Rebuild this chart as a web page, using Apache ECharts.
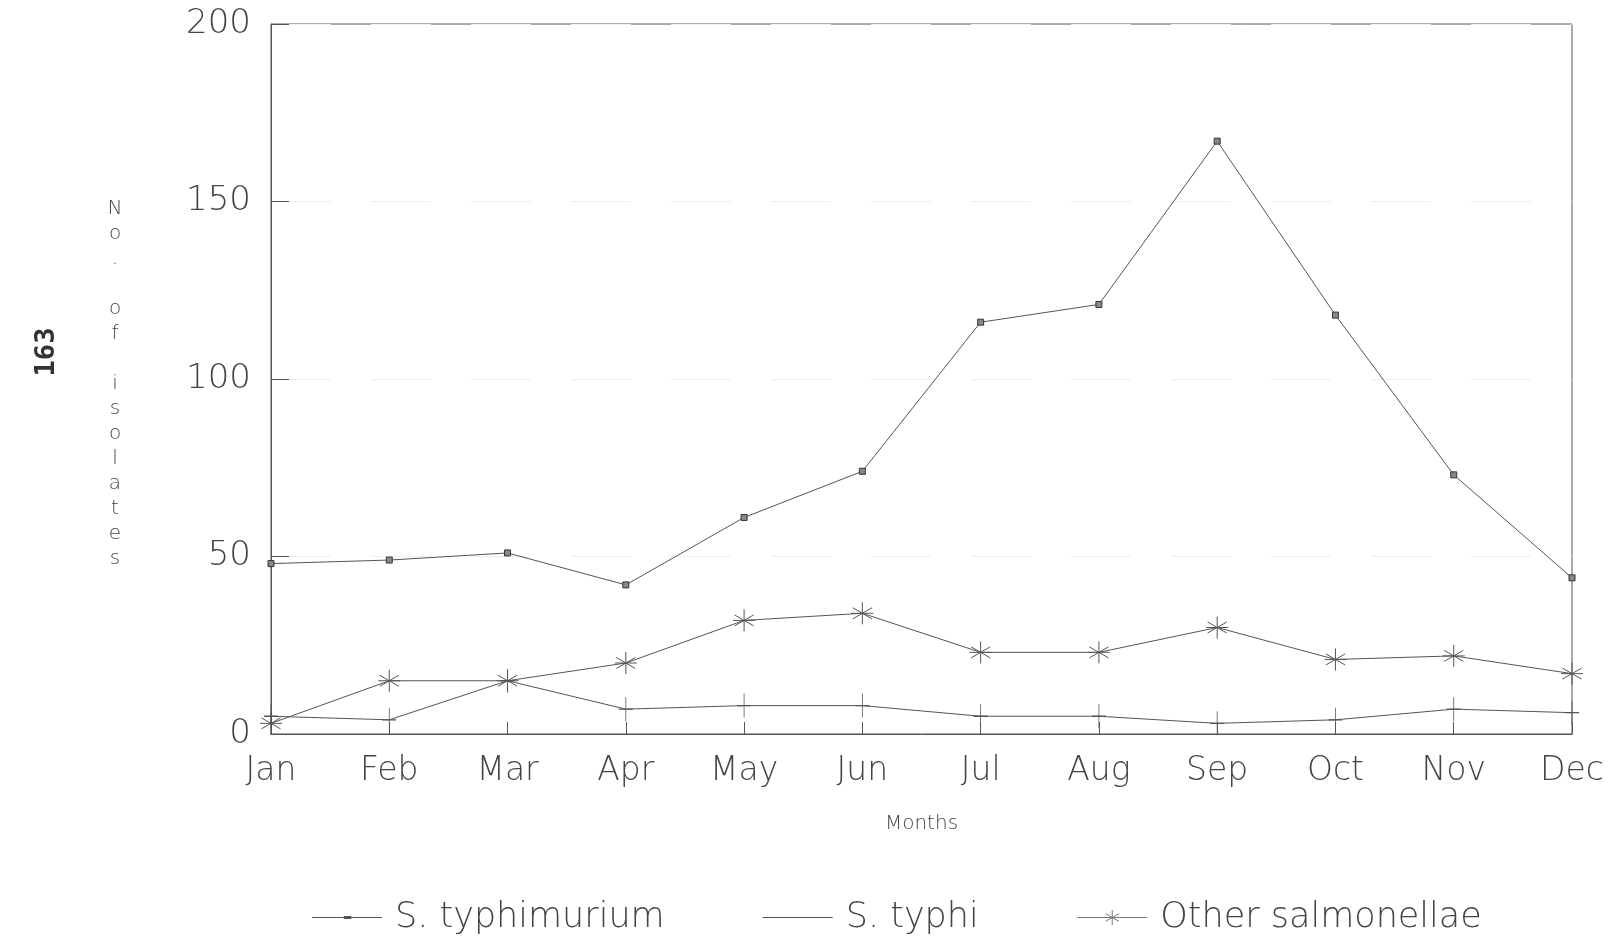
<!DOCTYPE html>
<html>
<head>
<meta charset="utf-8">
<title>Salmonella isolates by month</title>
<script src="https://cdn.jsdelivr.net/npm/echarts@6/dist/echarts.min.js"></script>
<style>
    html, body { margin: 0; padding: 0; background: #fff; }
    #chartBox { width: 1609px; height: 945px; }
</style>
</head>
<body>
<div id="chartBox"></div>
<script>
// data
var months = ['Jan', 'Feb', 'Mar', 'Apr', 'May', 'Jun', 'Jul', 'Aug', 'Sep', 'Oct', 'Nov', 'Dec'];
var typhimurium = [48, 49, 51, 42, 61, 74, 116, 121, 167, 118, 73, 44];
var typhi = [5, 4, 15, 7, 8, 8, 5, 5, 3, 4, 7, 6];
var otherSalmonellae = [3, 15, 15, 20, 32, 34, 23, 23, 30, 21, 22, 17];
var yTicks = [0, 50, 100, 150, 200];

var ink = '#555';
var textInk = '#444';
var thinFont = "'DejaVu Sans', 'Open Sans', sans-serif";

// marker shapes drawn as stroked paths
var plusPath = 'path://M7,0 L7,24 M0,12 L14,12';
var starPath = 'path://M10,0 L10,20 M1.3,5 L18.7,15 M1.3,15 L18.7,5 M0,10 L20,10';

// legend icons (filled thin bars so the box never has zero height)
var iconTyphimurium = 'path://M0,9.5 L66,9.5 L66,10.5 L0,10.5 Z M30,8.5 L37,8.5 L37,11.5 L30,11.5 Z';
var iconTyphi = 'path://M0,9.5 L70,9.5 L70,10.5 L0,10.5 Z';
var iconOther = 'path://M0,10 L74,10 M37,2 L37,18 M30,6 L44,14 M30,14 L44,6';

var myChart;
var option;

function initChart() {
    var chartDom = document.getElementById('chartBox');
    myChart = echarts.init(chartDom, null, { renderer: 'canvas' });

    option = {
        backgroundColor: '#ffffff',
        animation: false,
        grid: {
            left: 271,
            right: 37,
            top: 24,
            bottom: 211,
            show: true,
            borderColor: ink,
            borderWidth: 1,
            backgroundColor: 'transparent'
        },
        xAxis: {
            type: 'category',
            data: months,
            boundaryGap: false,
            name: 'Months',
            nameLocation: 'middle',
            nameGap: 80,
            nameTextStyle: { fontFamily: thinFont, fontWeight: 200, fontSize: 20, color: textInk },
            axisLine: { lineStyle: { color: ink, width: 1 } },
            axisTick: { inside: true, length: 12, lineStyle: { color: ink } },
            axisLabel: {
                margin: 21,
                fontFamily: thinFont,
                fontWeight: 200,
                fontSize: 33,
                color: textInk
            },
            splitLine: { show: false }
        },
        yAxis: {
            type: 'value',
            min: yTicks[0],
            max: yTicks[yTicks.length - 1],
            interval: yTicks[1] - yTicks[0],
            axisLine: { show: true, lineStyle: { color: ink, width: 1 } },
            axisTick: { show: true, inside: true, length: 18, lineStyle: { color: ink } },
            axisLabel: {
                margin: 20,
                fontFamily: thinFont,
                fontWeight: 200,
                fontSize: 34,
                color: textInk
            },
            splitLine: { show: true, lineStyle: { color: '#efefef', type: [60, 40], width: 1 } }
        },
        legend: {
            bottom: 5,
            left: 307,
            itemWidth: 70,
            itemHeight: 20,
            itemGap: 98,
            textStyle: { fontFamily: thinFont, fontWeight: 200, fontSize: 35, color: textInk, padding: [0, 0, 0, 8] },
            data: [
                { name: 'S. typhimurium', icon: iconTyphimurium, itemStyle: { color: ink, borderWidth: 0 } },
                { name: 'S. typhi', icon: iconTyphi, itemStyle: { color: ink, borderWidth: 0 } },
                { name: 'Other salmonellae', icon: iconOther, itemStyle: { color: 'transparent', borderColor: '#777', borderWidth: 1 } }
            ]
        },
        graphic: [
            {
                // stacked y-axis title
                type: 'text',
                x: 115,
                y: 384,
                style: {
                    text: 'N\no\n.\n\no\nf\n\ni\ns\no\nl\na\nt\ne\ns',
                    font: '200 20px ' + thinFont,
                    fill: textInk,
                    lineHeight: 25,
                    textAlign: 'center',
                    textVerticalAlign: 'middle'
                }
            },
            {
                // page number in the margin
                type: 'text',
                x: 47,
                y: 352,
                rotation: Math.PI / 2,
                style: {
                    text: '163',
                    font: 'bold 27px "DejaVu Sans Mono", monospace',
                    fill: '#333',
                    textAlign: 'center',
                    textVerticalAlign: 'middle'
                }
            }
        ],
        series: [
            {
                name: 'S. typhimurium',
                type: 'line',
                data: typhimurium,
                symbol: 'rect',
                symbolSize: 6,
                itemStyle: { color: '#888', borderColor: '#333', borderWidth: 1 },
                lineStyle: { color: ink, width: 1 }
            },
            {
                name: 'S. typhi',
                type: 'line',
                data: typhi,
                symbol: plusPath,
                symbolSize: [14, 24],
                itemStyle: { color: 'transparent', borderColor: ink, borderWidth: 1 },
                lineStyle: { color: ink, width: 1 }
            },
            {
                name: 'Other salmonellae',
                type: 'line',
                data: otherSalmonellae,
                symbol: starPath,
                symbolSize: 22,
                itemStyle: { color: 'transparent', borderColor: ink, borderWidth: 1 },
                lineStyle: { color: ink, width: 1 }
            }
        ]
    };

    myChart.setOption(option);
    window.addEventListener('resize', myChart.resize);
}

initChart();
</script>
</body>
</html>
